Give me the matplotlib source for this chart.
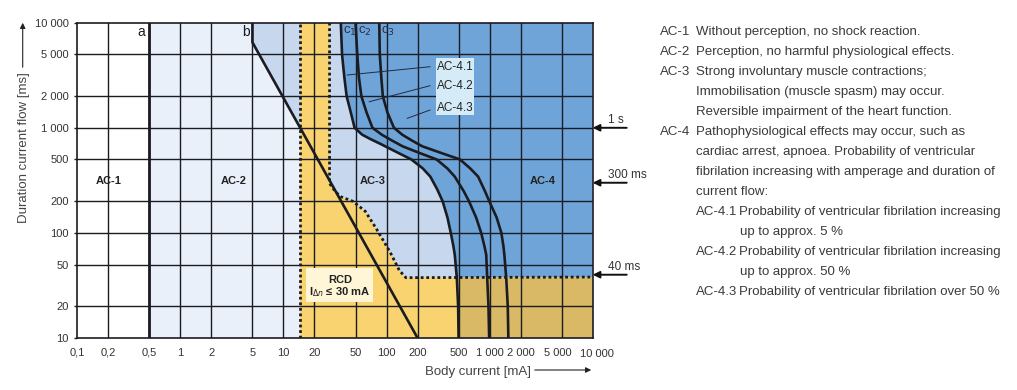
import matplotlib
matplotlib.use('Agg')
import matplotlib.pyplot as plt
from matplotlib.patches import Rectangle, FancyArrowPatch
import matplotlib.transforms as mtransforms

plt.rcParams['font.family'] = ['Liberation Sans', 'DejaVu Sans']

# ---------------------------------------------------------------------
# data
# ---------------------------------------------------------------------
x_ticks = [0.1, 0.2, 0.5, 1, 2, 5, 10, 20, 50, 100, 200, 500, 1000, 2000, 5000, 10000]
x_labels = ['0,1', '0,2', '0,5', '1', '2', '5', '10', '20', '50', '100', '200',
            '500', '1 000', '2 000', '5 000', '10 000']
y_ticks = [10, 20, 50, 100, 200, 500, 1000, 2000, 5000, 10000]
y_labels = ['10', '20', '50', '100', '200', '500', '1 000', '2 000', '5 000', '10 000']

# limit curve a (vertical) and b
a_x = 0.5
b_x = [5, 5, 200]
b_y = [10000, 6500, 10]

# c curves (mA, ms)
c1_x = [36, 37, 39, 41, 45, 49, 58, 70, 88, 120, 174, 225, 266, 310, 350, 390, 420, 445, 459, 481, 495, 500]
c1_y = [10000, 5000, 3000, 2000, 1400, 1000, 860, 780, 700, 600, 500, 410, 343, 260, 200, 140, 100, 75, 62, 37, 20, 10]
c2_x = [50, 52, 54, 57, 64, 73, 90, 112, 143, 215, 306, 390, 459, 560, 631, 740, 828, 890, 927, 948, 975, 990]
c2_y = [10000, 5000, 3000, 2000, 1400, 1000, 860, 760, 667, 570, 500, 410, 343, 250, 200, 140, 100, 75, 62, 37, 20, 10]
c3_x = [85, 86, 89, 92, 102, 118, 142, 175, 222, 350, 515, 650, 774, 900, 993, 1170, 1300, 1360, 1390, 1450, 1500, 1520]
c3_y = [10000, 5000, 3000, 2000, 1400, 1000, 860, 760, 667, 570, 500, 410, 343, 250, 200, 140, 100, 75, 62, 37, 20, 10]

# RCD (30 mA) protection zone, dotted boundary
rcd_left = 14.5
rcd_x = [28, 28, 32, 36, 47, 62, 79, 108, 133, 154, 10000]
rcd_y = [10000, 295, 246, 221, 200, 161, 111, 66, 44, 37.5, 38]

zone_names = ['AC-1', 'AC-2', 'AC-3', 'AC-4']
zone_x = [0.2, 3.3, 73, 3240]
zone_y = [313, 315, 313, 313]

arrow_vals = [1000, 300, 40]
arrow_texts = ['1 s', '300 ms', '40 ms']

ac4_names = ['AC-4.1', 'AC-4.2', 'AC-4.3']
ac4_text_y = [3813, 2514, 1534]
ac4_lead_start = [(264, 3813), (264, 2514), (264, 1476)]
ac4_lead_end = [(41.6, 3178), (68, 1771), (159, 1231)]

legend_rows = [
    ('AC-1', ['Without perception, no shock reaction.']),
    ('AC-2', ['Perception, no harmful physiological effects.']),
    ('AC-3', ['Strong involuntary muscle contractions;',
              'Immobilisation (muscle spasm) may occur.',
              'Reversible impairment of the heart function.']),
    ('AC-4', ['Pathophysiological effects may occur, such as',
              'cardiac arrest, apnoea. Probability of ventricular',
              'fibrilation increasing with amperage and duration of',
              'current flow:']),
]
legend_sub = [
    ('AC-4.1', ['Probability of ventricular fibrilation increasing', 'up to approx. 5 %']),
    ('AC-4.2', ['Probability of ventricular fibrilation increasing', 'up to approx. 50 %']),
    ('AC-4.3', ['Probability of ventricular fibrilation over 50 %']),
]

# colours
col_ac2 = '#eaf0f9'
col_ac3 = '#c6d7ee'
col_ac4 = '#6fa4d9'
col_yel = '#f8d36f'
col_tan = '#d9b866'
col_line = '#1b1b22'
col_txt = '#3a3a3a'

W, H = 1017, 390
fig = plt.figure(figsize=(W / 100, H / 100), dpi=100)
ax = fig.add_axes([77.3 / W, (H - 338) / H, 515.4 / W, 315.3 / H])
ax.set_xscale('log')
ax.set_yscale('log')
ax.set_xlim(0.1, 10000)
ax.set_ylim(10, 10000)

# ---- zones --------------------------------------------------------
ax.fill([a_x, a_x, b_x[0], b_x[1], b_x[2]],
        [10, 10000, b_y[0], b_y[1], b_y[2]], color=col_ac2, lw=0, zorder=1)
ax.fill([b_x[0]] + c1_x + [b_x[2], b_x[1]],
        [b_y[0]] + c1_y + [b_y[2], b_y[1]], color=col_ac3, lw=0, zorder=1)
ax.fill(c1_x + [10000, 10000], c1_y + [10, 10000], color=col_ac4, lw=0, zorder=1)
ax.fill([rcd_left] + rcd_x + [10000, rcd_left],
        [10000] + rcd_y + [10, 10], color=col_yel, lw=0, zorder=2)
# overlap of the RCD zone with AC-4
i37 = c1_y.index(37)
tan_x = c1_x[i37:] + [rcd_x[-1], rcd_x[-1]]
tan_y = c1_y[i37:] + [10, rcd_y[-1]]
ax.fill(tan_x, tan_y, color=col_tan, lw=0, zorder=2)

# ---- grid ---------------------------------------------------------
for xv in x_ticks[1:-1]:
    ax.axvline(xv, color=col_line, lw=1.0, zorder=3)
for yv in y_ticks[1:-1]:
    ax.axhline(yv, color=col_line, lw=1.0, zorder=3)

# ---- curves -------------------------------------------------------
ax.axvline(a_x, color=col_line, lw=2.0, zorder=5)
ax.plot(b_x, b_y, color=col_line, lw=1.9, zorder=5)
for cx, cy in [(c1_x, c1_y), (c2_x, c2_y), (c3_x, c3_y)]:
    ax.plot(cx, cy, color=col_line, lw=1.9, zorder=5, solid_joinstyle='round')
ax.plot([rcd_left, rcd_left], [10, 10000], color=col_line, lw=2.0,
        ls=(0, (1, 1)), zorder=6)
ax.plot(rcd_x, rcd_y, color=col_line, lw=2.0, ls=(0, (1, 1)), zorder=6)

# ---- labels inside the chart -------------------------------------
ax.text(0.46, 8100, 'a', ha='right', va='center', fontsize=10, color=col_line, zorder=7)
ax.text(4.7, 8100, 'b', ha='right', va='center', fontsize=10, color=col_line, zorder=7)
for lbl, cx in zip(['c$_1$', 'c$_2$', 'c$_3$'], [c1_x[0], c2_x[0], c3_x[0]]):
    ax.text(cx * 1.05, 8300, lbl, ha='left', va='center', fontsize=9.5,
            color='#2a2f45', zorder=7)
for name, zx, zy in zip(zone_names, zone_x, zone_y):
    ax.text(zx, zy, name, ha='center', va='center', fontsize=8,
            fontweight='bold', color='#222222', zorder=7)

# AC-4.x box with leader lines
ax.add_patch(Rectangle((302, 1324), 705 - 302, 4645 - 1324, facecolor='#d5ebf8',
                       edgecolor='none', zorder=7))
for name, ty, (sx, sy), (ex, ey) in zip(ac4_names, ac4_text_y, ac4_lead_start, ac4_lead_end):
    ax.text(310, ty, name, ha='left', va='center', fontsize=8.5, color='#222222', zorder=8)
    ax.plot([sx, ex], [sy, ey], color='#222a40', lw=0.7, zorder=8)

# RCD box
ax.add_patch(Rectangle((16.6, 22), 73.9 - 16.6, 46.3 - 22, facecolor='#fff6d8',
                       edgecolor='none', zorder=7))
ax.text(35.3, 35.6, 'RCD', ha='center', va='center', fontsize=8,
        fontweight='bold', color='#222222', zorder=8)
ax.text(35.3, 27.4, r'I$_{\Delta n}$ ≤ 30 mA', ha='center', va='center', fontsize=8,
        fontweight='bold', color='#222222', zorder=8)

# ---- axes styling ------------------------------------------------
ax.set_xticks(x_ticks)
ax.set_xticklabels(x_labels)
ax.set_yticks(y_ticks)
ax.set_yticklabels(y_labels)
ax.minorticks_off()
ax.tick_params(axis='both', length=2, width=1, color=col_line, labelsize=8,
               labelcolor='#333333')
ax.tick_params(axis='x', length=0, pad=7)
ax.tick_params(axis='y', pad=4)
# nudge the crowded labels at the right end like the original
label_shift = {'5 000': (-4, 0), '10 000': (4, -1.5)}
for tl in ax.get_xticklabels():
    if tl.get_text() in label_shift:
        dx, dy = label_shift[tl.get_text()]
        tl.set_transform(tl.get_transform() + mtransforms.ScaledTranslation(
            dx / 100, dy / 100, fig.dpi_scale_trans))
for sp in ax.spines.values():
    sp.set_color(col_line)
    sp.set_linewidth(1.2)
    sp.set_zorder(9)

# axis titles with arrows
fig.text(24 / W, 1 - 148 / H, 'Duration current flow [ms]', rotation=90,
         ha='center', va='center', fontsize=9.5, color='#444444')
fig.add_artist(FancyArrowPatch(
    (22.7 / W, 1 - 70 / H), (22.7 / W, 1 - 20 / H), transform=fig.transFigure,
    arrowstyle='-|>', mutation_scale=8, lw=0.8, color='#222222'))
fig.text(531 / W, 1 - 372 / H, 'Body current [mA]', ha='right', va='center',
         fontsize=9.5, color='#444444')
fig.add_artist(FancyArrowPatch(
    (532 / W, 1 - 370 / H), (594 / W, 1 - 370 / H), transform=fig.transFigure,
    arrowstyle='-|>', mutation_scale=8, lw=0.8, color='#222222'))

# arrows on the right
trans = mtransforms.blended_transform_factory(ax.transAxes, ax.transData)
for val, txt in zip(arrow_vals, arrow_texts):
    ax.annotate('', xy=(1.0, val), xycoords=trans, xytext=(1.066, val),
                textcoords=trans,
                arrowprops=dict(arrowstyle='-|>', lw=1.4, color='#111111',
                                mutation_scale=10, shrinkA=0, shrinkB=0),
                annotation_clip=False)
    ax.annotate(txt, xy=(1.0, val), xycoords=trans, xytext=(15, 8),
                textcoords='offset pixels', ha='left', va='center',
                fontsize=8.5, color='#333333', annotation_clip=False)

# ---- description text at the right --------------------------------
y0 = 32.3
step = 20.0
fs = 9.5
row = 0
for code, lines in legend_rows:
    fig.text(660 / W, 1 - (y0 + row * step) / H, code, ha='left', va='center',
             fontsize=fs, color=col_txt)
    for ln in lines:
        fig.text(696 / W, 1 - (y0 + row * step) / H, ln, ha='left', va='center',
                 fontsize=fs, color=col_txt)
        row += 1
for code, lines in legend_sub:
    fig.text(696 / W, 1 - (y0 + row * step) / H, code, ha='left', va='center',
             fontsize=fs, color=col_txt)
    for i, ln in enumerate(lines):
        fig.text((739 if i == 0 else 740) / W, 1 - (y0 + row * step) / H, ln,
                 ha='left', va='center', fontsize=fs, color=col_txt)
        row += 1

fig.savefig('out.png', dpi=100)
